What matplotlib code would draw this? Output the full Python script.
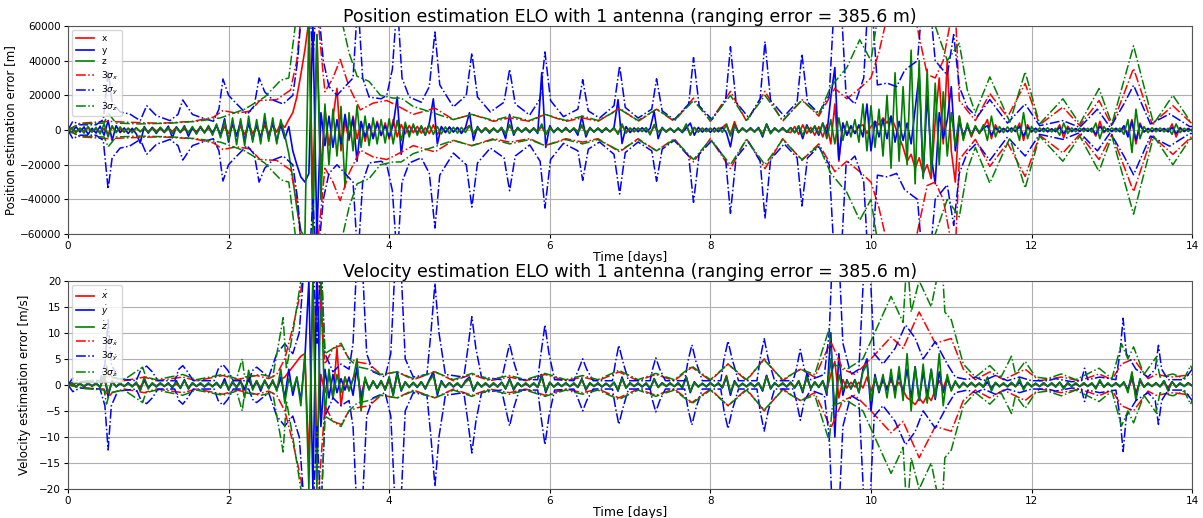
import numpy as np
import matplotlib
matplotlib.use("Agg")
import matplotlib.pyplot as plt

# ---------------- data ----------------
DT = 0.05  # days between error samples

# position errors [km]
pos_x_err = [
 0, 0.6, -0.8, 1.0, -0.5, 1.2, -1.0, 0.7, -1.3, 0.9, -2.0, 1.5, -0.8, 0.6, -1.1, 1.0, -0.7, 1.2, -0.9, 0.8,
 -1.0, 1.4, -0.6, 0.9, -1.5, 1.1, -0.8, 1.6, -1.2, 0.7, -1.4, 1.0, -0.9, 1.8, -1.3, 1.2, -2.2, 2.5, -2.8, 1.9,
 -2.0, 2.8, -3.2, 2.2, -2.6, 3.4, -2.1, 1.8, -3.6, 2.7, -2.2, 3.1, -1.2, 4.0, 1.5, 6.0, 10.0, 19.0, 32.0, 46.0,
 63, -35, 55, -25, 12, -9, 7, 24, -12, 5, -6, 8, -5, 4.5, -6.5, 3.5, -4.2, 5, -3.3, 4.1,
 -5.2, 6, -4, 3.2, -2.2, 2.6, -1.6, 2.1, -1.8, 1.3, -2.1, 3.0, -2.6, 1.5, -1.1, 1.3, -0.9, 1.1, -1.3, 0.9,
 2.6, -2.2, 1.1, -0.9, 1.2, -0.8, 1.0, -1.1, 0.7, -1.9, 2.4, -1.2, 0.8, -0.9, 1.1, -0.7, 1.0, -0.8, 2.0, -2.5,
 1.2, -0.8, 1.0, -0.9, 0.7, -1.1, 0.9, -0.7, 2.0, -1.6, 0.9, -0.8, 1.0, -0.6, 0.8, -0.9, 1.1, -1.8, 2.4, -1.0,
 0.8, -0.9, 1.0, -0.7, 1.2, -2.0, 2.2, -1.1, 0.8, -0.6, 0.9, -1.0, 0.8, -0.7, 2.5, -2.8, 1.4, -0.9, 1.1, -0.8,
 0.9, -1.1, 0.8, 1.5, 3.5, -2.6, 4.8, -1.2, 0.9, -1.0, 0.8, -0.7, 1.0, -2.2, 3.0, -1.8, 0.9, -0.8, 1.1, -0.9,
 -1.5, 2.0, -2.5, 3.0, -2.0, 1.5, -3.0, 2.0, -4.0, 3.0, -8.0, 15.0, -18.0, 4.0, -3.0, 2.0, -2.0, 2.0, 3.0, -2.0,
 2, 5, 3, 7, 4, 8, 2, -4, -10, -18, -14, -22, -16, -25, -20, -28, 5, 30, -8, 40,
 -12, -30, 8, -5, 3, -4, 2, -2, 1.5, 6, -5, 3, -1.5, 1, -1, 1.2, -0.8, 4, -6, 3,
 -1.2, 1.0, -0.8, 0.9, -1.1, 0.7, -0.9, 3.0, -4.5, 2.2, -1.0, 0.8, -0.9, 1.1, -0.7, 0.9, -3.5, 5.0, -1.5, 0.8,
 -0.9, 1.0, -0.7, 0.8, -2.0, 6.0, -8.0, 4.0, -1.2, 0.9, -1.0, 0.8, -0.7, 0.9, -1.0, 3.5, -4.0, 1.5, -0.9, 1.0,
 -0.5]

pos_y_err = [
 0, -1.5, 2.0, -1.2, 1.8, -2.5, 1.0, -1.8, 2.2, -3.0, 5.5, -6.0, 2.5, -1.5, 1.2, -2.0, 1.0, -2.2, -7.5, 2.0,
 -1.8, 1.5, -2.0, 1.3, -1.0, 2.2, -4.5, 1.8, -1.5, 2.4, -3.6, 1.2, -2.0, 1.6, -1.4, 2.0, -1.6, 2.5, -3.0, 6.5,
 -7.0, 4.5, -3.5, 5.0, -6.0, 4.0, -5.5, 3.5, -4.8, 6.0, -5.0, 4.2, -6.5, 3.0, -5.0, 2.0, -12.0, -20.0, -27.0, -30.0,
 -25.0, 62.0, -62.0, 10.0, -9.0, 8.0, -10.0, 6.0, -8.0, 9.0, -5.0, 7.0, -18.0, 5.0, -4.0, 3.5, -5.0, 4.0, -3.0, 2.5,
 -4.0, 3.0, 19.0, -14.0, 3.0, -2.0, 2.5, -1.8, 2.0, -3.0, 4.0, 18.0, -8.0, 2.0, -1.5, 1.8, -1.2, 1.5, -2.0, 1.4,
 10.0, -6.0, 2.0, -1.5, 1.2, -1.8, 1.0, -1.3, 1.5, -5.0, 9.0, -3.0, 1.5, -1.2, 1.0, -1.5, 1.2, -2.0, 33.0, -10.0,
 2.5, -1.5, 1.2, -1.0, 1.4, -1.2, 1.0, -3.0, 8.0, -4.0, 1.5, -1.2, 1.0, -1.4, 1.2, -1.0, 1.5, 17.5, -7.8, 2.0,
 -1.5, 1.2, -1.0, 1.3, -1.1, 1.0, 10.7, -5.0, 1.5, -1.2, 1.0, -1.3, 1.1, -1.5, 1.2, 4.0, -3.0, 1.5, -1.2, 1.0,
 -1.3, 1.2, -1.0, 1.4, -1.5, -9.7, 3.0, -1.4, 1.2, -1.0, 1.3, -1.1, 1.5, -4.0, 3.5, -1.6, 1.2, -1.0, 1.3, -1.2,
 1.4, -1.5, 2.0, -5.0, 3.0, -1.5, 2.0, -3.0, 4.0, -2.5, 19.0, 36.0, -17.0, 4.0, -3.0, 2.5, -2.0, 3.0, -4.0, 15.0,
 -12.0, 5.0, -4.0, 6.0, -5.0, 8.0, -7.0, 5.0, -6.0, 4.0, -8.0, 12.0, 32.0, -27.0, 20.0, -15.0, -31.0, 10.0, -5.0, 6.0,
 25.0, -12.0, 5.0, -3.0, 2.0, -2.5, 1.5, -1.2, 1.0, 2.5, -3.0, 1.2, -1.0, 0.8, -0.9, 1.0, -0.8, 2.0, -3.5, 1.5,
 -0.8, 0.9, -0.7, 1.0, -0.8, 0.6, -0.9, 1.5, -2.0, 1.0, -0.7, 0.8, -0.6, 0.9, -0.7, 1.0, -2.5, 2.2, -0.9, 0.7,
 -0.8, 0.9, -1.0, 2.5, -4.0, 5.0, -6.0, 3.0, -1.0, 0.8, -0.7, 0.9, -0.6, 0.8, -1.0, 1.5, -2.0, 1.0, -0.8, 0.7,
 -0.4]

pos_z_err = [
 0, 1.2, -1.5, 1.0, -1.8, 2.0, -1.2, 1.5, -2.2, 3.5, -4.0, 2.5, -1.5, 1.8, -1.2, 1.0, -1.6, 1.3, -1.0, 1.4,
 -1.2, 1.0, -1.5, 1.6, -1.1, 1.3, -2.0, 1.4, -1.2, 1.8, -1.6, 2.0, -2.4, 2.2, -1.8, 2.6, -3.0, 3.5, -4.5, 5.0,
 -6.0, 7.0, -8.5, 6.5, -9.0, 8.0, -7.0, 6.0, -8.0, 9.5, -6.5, 7.0, -8.0, 6.0, -3.0, -13.6, -28.0, -45.0, -58.0, -62.0,
 62.0, -62.0, 55.0, -40.0, 15.0, -20.0, 12.0, -15.0, 13.6, -33.0, 10.0, -12.0, 14.0, -10.0, 8.0, -9.0, 7.0, -8.0, 6.0, -7.5,
 6.5, -8.0, 5.5, -6.0, 4.5, -4.0, 3.5, -3.0, 2.5, -2.8, 3.0, -2.5, 2.0, -2.2, 1.8, -2.0, 1.6, -1.8, 1.5, -1.4,
 2.5, -2.0, 1.5, -1.3, 1.2, -1.5, 1.0, -1.2, 1.4, -2.2, 3.0, -2.0, 1.2, -1.0, 1.3, -1.1, 1.0, -1.4, 3.5, -2.8,
 1.5, -1.2, 1.0, -1.3, 1.1, -0.9, 1.2, -1.5, 3.0, -2.5, 1.2, -1.0, 1.1, -0.9, 1.2, -1.0, 1.3, -2.5, 3.5, -1.8,
 1.2, -1.0, 1.1, -0.9, 1.3, -2.8, 3.2, -1.5, 1.0, -1.1, 0.9, -1.0, 1.2, -1.0, 3.5, -3.0, 1.5, -1.2, 1.0, -0.9,
 1.1, -1.0, 1.2, -1.3, 3.0, -3.5, 2.8, -1.5, 1.1, -0.9, 1.0, -1.2, 1.1, -3.0, 3.5, -2.2, 1.2, -1.0, 0.9, -1.1,
 1.2, -1.5, 2.5, -3.0, 2.0, -1.5, 2.5, -2.0, 4.0, -5.0, 6.0, -8.0, 7.0, -6.0, 5.0, -4.0, 6.0, -7.0, 15.0, -12.0,
 14.0, -10.0, 12.0, -15.0, 20.0, -22.0, 33.0, -18.0, 25.0, -20.0, 46.0, -31.0, 40.0, -28.0, 35.0, -25.0, 27.0, -20.0, 22.0, -15.0,
 10.0, -9.0, 8.0, -6.0, 4.0, -3.0, 2.5, -2.0, 3.0, -6.0, 8.0, -4.0, 2.0, -1.5, 1.8, -1.2, 2.5, -6.0, 10.0, -5.0,
 2.0, -1.5, 1.2, -1.0, 1.3, -1.1, 1.0, -3.0, 4.0, -2.0, 1.2, -1.0, 1.1, -0.9, 1.0, -1.2, 4.0, -5.0, 2.0, -1.0,
 1.2, -1.0, 1.1, -2.5, 6.0, -13.0, 12.0, -5.0, 2.0, -1.5, 1.3, -1.0, 1.2, -1.1, 1.0, -2.5, 3.5, -1.5, 1.0, -0.8,
 0.5]

# velocity errors [m/s]
vel_x_err = [
 0, 0.2, -0.3, 0.2, -0.2, 0.3, -0.2, 0.2, -0.3, 1.2, -1.5, 0.5, -0.3, 0.2, -0.2, 0.3, -0.2, 0.2, -0.4, 0.8,
 -0.6, 0.3, -0.2, 0.3, -0.2, 0.2, -0.3, 0.2, -0.5, 0.9, -0.6, 0.3, -0.2, 0.2, -0.3, 0.2, -0.2, 0.3, -0.4, 0.8,
 -0.7, 0.4, -0.3, 0.5, -1.0, 1.5, -0.6, 0.4, -0.5, 0.6, -0.4, 0.5, -0.6, 1.0, 1.5, 2.5, 3.5, 4.5, 5.5, 6.0,
 -15.0, 20.0, -12.0, 2.0, -1.5, 2.0, -2.5, 7.0, -4.0, 1.5, -1.0, 1.2, 2.5, -2.0, 1.0, -0.8, 0.7, -0.6, 0.5, -0.6,
 0.7, -1.5, 2.0, -0.8, 0.4, -0.3, 0.4, -0.3, 0.5, -0.6, 0.8, 2.0, -1.5, 0.5, -0.3, 0.4, -0.3, 0.3, -0.4, 0.5,
 1.2, -1.0, 0.4, -0.3, 0.3, -0.4, 0.3, -0.3, 0.4, -0.6, 1.0, -0.8, 0.3, -0.3, 0.2, -0.3, 0.3, -0.4, 1.5, -1.2,
 0.4, -0.3, 0.3, -0.2, 0.3, -0.3, 0.2, -0.4, 1.0, -0.8, 0.3, -0.2, 0.3, -0.3, 0.2, -0.3, 0.4, -0.8, 1.2, -0.5,
 0.3, -0.2, 0.3, -0.3, 0.2, -0.6, 1.0, -0.4, 0.3, -0.2, 0.3, -0.3, 0.2, -0.4, 1.5, -1.2, 0.4, -0.3, 0.2, -0.3,
 0.3, -0.2, 0.3, -0.4, 1.8, -1.5, 0.5, -0.3, 0.2, -0.3, 0.2, -0.3, 0.3, -1.0, 1.8, -0.6, 0.3, -0.2, 0.3, -0.3,
 0.3, -0.4, 0.6, -1.0, 1.2, -0.5, 0.4, -0.3, 0.6, -1.0, 2.0, 4.5, -2.5, 1.0, -0.6, 0.5, -0.4, 0.5, -0.6, 1.5,
 -1.2, 0.8, -0.6, 0.7, -0.5, 0.8, -0.6, 0.5, -1.0, -2.5, -3.0, -3.8, -2.5, -3.5, -2.0, -3.0, -1.0, 0.8, -0.6, 1.5,
 -1.0, 0.5, -0.4, 0.3, -0.3, 0.3, -0.2, 0.3, -0.2, 0.6, -0.8, 0.3, -0.2, 0.2, -0.3, 0.2, -0.2, 0.5, -0.6, 0.3,
 -0.2, 0.2, -0.3, 0.2, -0.2, 0.3, -0.2, 0.4, -0.5, 0.3, -0.2, 0.2, -0.3, 0.2, -0.2, 0.3, -0.5, 0.6, -0.3, 0.2,
 -0.2, 0.3, -0.2, 0.3, -0.8, 1.0, -1.5, 0.6, -0.3, 0.2, -0.2, 0.3, -0.3, 0.4, -0.5, 0.6, -0.4, 0.3, -0.2, 0.3,
 -0.1]

vel_y_err = [
 0, 0.4, -0.3, 0.3, -0.4, 0.3, -0.2, 0.4, -0.5, 2.0, -2.2, 0.8, -0.4, 0.3, -0.3, 0.4, -0.3, 0.5, -1.0, 1.0,
 -0.5, 0.3, -0.4, 0.3, -0.3, 0.4, -0.6, 0.8, -0.7, 1.0, -0.8, 0.4, -0.3, 0.3, -0.4, 0.3, -0.3, 0.4, -0.6, 1.2,
 -1.0, 0.6, -0.5, 0.7, -0.8, 1.0, -0.6, 0.8, -1.2, 0.9, -0.6, 0.8, -1.0, 1.5, -2.5, 3.0, -2.0, 1.5, -3.0, 5.0,
 20.0, -20.0, 22.0, -8.0, 3.0, -2.5, 2.0, -1.5, 1.2, -1.0, 1.5, -2.0, 3.5, -3.0, 1.0, -0.8, 0.7, -0.6, 0.8, -1.0,
 1.5, -2.0, 2.5, -1.2, 0.6, -0.5, 0.4, -0.5, 0.6, -0.8, 1.0, 2.5, -2.0, 0.8, -0.5, 0.4, -0.4, 0.3, -0.5, 0.8,
 1.5, -1.2, 0.5, -0.4, 0.3, -0.4, 0.3, -0.4, 0.5, -0.8, 1.2, -1.0, 0.4, -0.3, 0.3, -0.4, 0.3, -0.5, 2.0, -1.5,
 0.5, -0.4, 0.3, -0.3, 0.4, -0.3, 0.3, -0.5, 1.2, -1.0, 0.4, -0.3, 0.3, -0.4, 0.3, -0.3, 0.5, -1.2, 1.5, -0.6,
 0.4, -0.3, 0.3, -0.4, 0.3, -0.8, 1.2, -0.5, 0.4, -0.3, 0.3, -0.3, 0.4, -0.6, 1.5, -1.5, 0.6, -0.4, 0.3, -0.3,
 0.4, -0.3, 0.3, -0.6, 1.5, -2.0, 0.8, -0.4, 0.3, -0.3, 0.4, -0.3, 0.4, -1.2, 1.8, -0.8, 0.4, -0.3, 0.3, -0.4,
 0.5, -0.6, 0.8, -1.5, 2.0, -0.8, 0.6, -0.5, 0.8, -2.0, 10.0, -10.0, 6.0, -2.0, 1.0, -0.8, 1.0, -1.5, 3.0, 5.0,
 -5.0, 2.0, -1.5, 1.2, -1.0, 1.5, -1.2, 2.0, -1.5, 3.0, -2.5, 3.5, -3.0, 2.5, -2.0, 3.0, -2.8, 2.5, -1.5, 1.0,
 -0.8, 0.6, -0.5, 0.4, -0.3, 0.4, -0.3, 0.3, -0.4, 0.5, -0.6, 0.4, -0.3, 0.3, -0.3, 0.4, -0.3, 0.5, -0.6, 0.4,
 -0.3, 0.3, -0.3, 0.4, -0.3, 0.3, -0.4, 0.5, -0.6, 0.4, -0.3, 0.3, -0.3, 0.4, -0.3, 0.3, -0.6, 0.8, -0.4, 0.3,
 -0.3, 0.4, -0.3, 0.5, -1.0, 2.0, -2.2, 1.0, -0.4, 0.3, -0.3, 0.4, -0.3, 0.8, -1.0, 0.6, -0.4, 0.3, -0.3, 0.4,
 -0.2]

vel_z_err = [
 0, 0.3, -0.4, 0.3, -0.3, 0.4, -0.3, 0.3, -0.5, 1.8, -1.6, 0.6, -0.3, 0.4, -0.3, 0.3, -0.4, 0.5, -1.2, 1.5,
 -0.8, 0.4, -0.3, 0.4, -0.3, 0.3, -0.4, 0.5, -0.6, 0.8, -0.7, 0.4, -0.3, 0.4, -0.3, 0.4, -0.4, 0.5, -0.5, 0.6,
 -0.8, 0.7, -0.6, 1.0, -2.5, 2.8, -1.0, 0.8, -0.7, 0.9, -0.8, 1.0, -1.2, 3.0, -3.5, 1.2, -1.0, 1.5, -4.0, 6.0,
 -20.0, 20.0, -20.0, 20.0, -6.0, 3.0, -2.5, 2.0, -1.5, 1.5, -1.2, 1.0, 5.0, -5.0, 1.5, -1.0, 0.8, -0.7, 0.8, -1.0,
 1.5, -2.0, 2.0, -1.0, 0.6, -0.5, 0.5, -0.4, 0.6, -0.7, 0.8, 1.8, -1.5, 0.6, -0.4, 0.4, -0.3, 0.4, -0.4, 0.6,
 1.2, -1.0, 0.5, -0.4, 0.4, -0.3, 0.4, -0.4, 0.5, -0.7, 1.0, -0.8, 0.4, -0.3, 0.4, -0.3, 0.4, -0.5, 1.5, -1.2,
 0.5, -0.4, 0.4, -0.3, 0.4, -0.3, 0.4, -0.5, 1.0, -0.8, 0.4, -0.3, 0.4, -0.3, 0.3, -0.4, 0.5, -1.0, 1.2, -0.6,
 0.4, -0.3, 0.4, -0.3, 0.4, -0.7, 1.0, -0.5, 0.4, -0.3, 0.4, -0.3, 0.4, -0.6, 1.5, -1.3, 0.5, -0.4, 0.3, -0.4,
 0.4, -0.3, 0.4, -0.5, 1.6, -1.4, 0.6, -0.4, 0.3, -0.4, 0.3, -0.4, 0.4, -1.0, 1.6, -0.7, 0.4, -0.3, 0.4, -0.3,
 0.5, -0.6, 0.8, -1.2, 1.5, -0.7, 0.6, -0.5, 0.8, -1.5, 5.0, -4.0, 2.0, -1.0, 0.8, -0.7, 1.0, -1.5, 2.5, 4.0,
 -3.0, 1.5, -1.2, 2.0, -2.5, 3.0, -2.5, 3.5, -3.0, 6.0, -5.0, 3.5, -3.0, 4.0, -3.5, 3.0, -2.5, 6.0, -4.0, 2.0,
 -1.2, 0.8, -0.6, 0.5, -0.4, 0.5, -0.4, 0.4, -0.5, 1.5, -1.2, 0.5, -0.4, 0.4, -0.4, 0.5, -0.4, 1.2, -1.0, 0.5,
 -0.4, 0.3, -0.3, 0.4, -0.3, 0.4, -0.4, 0.5, -0.8, 0.5, -0.3, 0.4, -0.3, 0.4, -0.3, 0.4, -0.8, 1.0, -0.5, 0.4,
 -0.3, 0.4, -0.4, 0.6, -1.5, 2.5, -3.0, 1.2, -0.5, 0.4, -0.3, 0.4, -0.4, 0.8, -1.2, 0.6, -0.4, 0.4, -0.3, 0.4,
 -0.2]

# 3-sigma envelopes (time [days], value); position in km, velocity in m/s
pos_sig_x = [(0,0),(0.15,3.9),(0.5,5),(0.73,4.5),(1.15,3.9),(1.56,5),(1.81,7.4),(1.93,11.2),(2.1,9.7),(2.27,10.9),
 (2.39,17),(2.6,17.5),(2.77,23),(2.85,40),(2.9,65),(3.0,80),(3.1,70),(3.2,22),(3.3,30),(3.39,40.7),(3.5,25),(3.64,11.6),
 (3.8,15.5),(3.97,17),(4.1,14),(4.3,9),(4.57,12.6),(4.8,6),(5.03,9),(5.3,5),(5.5,7),(5.75,5),(5.94,9),(6.2,5),(6.41,7),
 (6.6,5),(6.87,12.6),(7.1,5),(7.33,12),(7.55,5),(7.79,18.4),(8.0,5),(8.25,22.3),(8.45,5),(8.68,22.3),(8.9,5),(9.14,17.5),
 (9.35,8),(9.55,24),(9.7,18),(9.86,24),(10.0,30),(10.1,45),(10.2,65),(10.3,80),(10.45,80),(10.55,65),(10.7,32),(10.8,30),
 (10.9,40),(11.0,65),(11.05,70),(11.1,17),(11.3,5.4),(11.48,21),(11.7,7.4),(11.92,26.8),(12.1,3),(12.39,13.2),(12.6,2.5),
 (12.84,17),(13.0,2.5),(13.27,35.5),(13.5,3.5),(13.76,14),(14,3.5)]

pos_sig_y = [(0,0),(0.06,5),(0.15,3),(0.35,3),(0.44,6),(0.5,34),(0.55,16),(0.65,10.4),(0.77,9.2),(0.9,5.4),(0.98,14),
 (1.1,8.3),(1.27,5.4),(1.37,9),(1.43,17.3),(1.55,9),(1.64,7.5),(1.81,5),(1.88,12),(1.93,29.4),(2.0,20),(2.06,17),(2.23,9),
 (2.32,14),(2.38,30),(2.45,22),(2.55,17.3),(2.68,15),(2.8,20),(2.86,40),(2.92,75),(3.0,80),(3.05,40),(3.1,80),(3.18,40),
 (3.25,25),(3.35,20),(3.45,25),(3.55,30),(3.61,75),(3.67,30),(3.75,19),(3.9,18),(3.97,20),(4.04,35),(4.10,75),(4.16,30),
 (4.25,19),(4.4,16),(4.5,25),(4.57,56.5),(4.63,26),(4.8,13.3),(4.96,20),(5.03,44.4),(5.1,19),(5.26,10.4),(5.43,16),(5.5,35),
 (5.57,15),(5.75,8.6),(5.88,18),(5.94,45),(6.01,17),(6.17,7.7),(6.35,12),(6.41,29),(6.48,11),(6.62,6.9),(6.8,14),(6.87,36.9),
 (6.94,13),(7.1,6.9),(7.27,12),(7.33,29.5),(7.4,11),(7.55,6),(7.73,15),(7.79,41.7),(7.86,14),(8.02,6),(8.19,17),(8.25,48),
 (8.32,16),(8.48,7),(8.62,18),(8.68,51),(8.75,17),(8.92,8),(9.08,16),(9.14,43.8),(9.21,16),(9.35,9.6),(9.48,20),(9.55,80),
 (9.62,80),(9.69,20),(9.8,15),(9.91,30),(9.97,80),(10.03,60),(10.08,26),(10.2,27),(10.32,25),(10.42,34.5),(10.58,40),
 (10.65,80),(10.72,80),(10.8,40),(10.95,31.6),(11.03,55),(11.1,25),(11.2,13),(11.32,7.4),(11.48,17.5),(11.7,4),(11.92,15),
 (12.1,2.5),(12.39,5.4),(12.6,1.5),(12.82,12),(12.98,1.5),(13.15,15),(13.27,25.8),(13.48,3.5),(13.72,9.3),(13.97,2),(14,2)]

pos_sig_z = [(0,0),(0.15,3.5),(0.45,4),(0.5,9.7),(0.6,4),(0.9,3.5),(1.3,4),(1.6,5),(1.9,7),(2.2,12),(2.45,19),(2.65,28.7),
 (2.75,30),(2.83,60),(2.9,80),(3.0,80),(3.1,70),(3.2,60),(3.3,75),(3.4,65),(3.5,44.6),(3.6,31),(3.75,28),(3.89,20),(4.05,18.4),
 (4.15,18.4),(4.3,13.6),(4.56,9.7),(4.8,6),(5.03,9),(5.3,5.5),(5.5,8),(5.75,5.5),(5.94,9),(6.2,5.5),(6.41,8),(6.6,5.5),
 (6.87,12),(7.1,5.5),(7.33,12),(7.55,5.5),(7.79,17),(8.0,5.5),(8.25,20),(8.45,5.5),(8.68,20),(8.9,5.5),(9.14,17),(9.35,9),
 (9.5,25),(9.7,36),(9.86,52),(10.0,40),(10.1,70),(10.3,80),(10.35,75),(10.5,80),(10.65,70),(10.8,60),(10.95,40),(11.1,50),
 (11.2,23),(11.3,10),(11.48,30.6),(11.73,4.5),(11.92,33.5),(12.1,3.5),(12.39,18),(12.6,3.5),(12.84,23.9),(13.0,3.5),
 (13.27,48.5),(13.52,3.5),(13.76,20),(13.97,5.4),(14,5)]

vel_sig_x = [(0,0),(0.2,0.6),(0.45,0.8),(0.5,2.5),(0.55,1.5),(0.7,0.8),(0.95,1.5),(1.1,0.8),(1.43,1.5),(1.6,0.8),(1.93,1.8),
 (2.1,1),(2.35,1.8),(2.5,1.2),(2.6,2),(2.7,5),(2.8,11),(2.9,18),(2.95,25),(3.1,25),(3.2,4),(3.3,7),(3.4,7.6),(3.5,5),
 (3.6,4.4),(3.75,4),(3.9,2),(4.1,2.5),(4.3,1),(4.57,2.5),(4.8,0.8),(5.03,2),(5.25,0.8),(5.5,1.5),(5.7,0.8),(5.94,2),(6.2,0.8),
 (6.41,1.5),(6.6,0.8),(6.86,2.5),(7.1,0.8),(7.32,2),(7.55,0.8),(7.77,3.4),(8.0,0.8),(8.22,4),(8.45,0.8),(8.67,5),(8.9,0.8),
 (9.12,3),(9.3,1.5),(9.5,8.3),(9.65,3),(9.8,2),(10.0,5),(10.25,9.2),(10.4,7),(10.6,14),(10.8,8),(11.0,8.9),(11.15,3),
 (11.3,1),(11.48,2.5),(11.65,1),(11.92,3),(12.1,0.8),(12.37,1.5),(12.6,0.8),(12.84,2.1),(13.0,1),(13.12,4),(13.27,5),
 (13.45,1.2),(13.55,2),(13.76,1.5),(14,2)]

vel_sig_y = [(0,0),(0.06,1.3),(0.15,0.6),(0.4,0.8),(0.46,4),(0.5,12.5),(0.54,4),(0.62,1.2),(0.85,0.8),(0.91,3),(0.98,3.6),
 (1.05,2.5),(1.12,0.8),(1.33,0.8),(1.38,3),(1.43,3.7),(1.49,2.5),(1.56,0.8),(1.82,0.8),(1.87,3),(1.93,3.9),(1.99,2.8),
 (2.06,0.8),(2.25,0.8),(2.3,2.8),(2.35,3.4),(2.42,2.5),(2.5,1.5),(2.6,6),(2.7,7.9),(2.8,6),(2.88,10),(2.95,25),(3.05,25),
 (3.1,8),(3.15,25),(3.2,6),(3.3,2.5),(3.4,4),(3.5,3),(3.55,8),(3.6,25),(3.66,25),(3.72,6),(3.8,2.5),(3.95,1.5),(4.02,6),
 (4.08,25),(4.14,25),(4.2,5),(4.3,1.5),(4.47,2),(4.52,10),(4.57,19.5),(4.62,10),(4.7,2),(4.93,1.5),(4.98,7),(5.03,13.1),
 (5.08,7),(5.15,1.5),(5.4,1),(5.45,4.5),(5.5,7.9),(5.55,4.5),(5.62,1),(5.85,1),(5.89,6),(5.94,11.5),(5.99,6),(6.06,1),
 (6.3,0.8),(6.36,3),(6.41,5),(6.46,3),(6.54,0.8),(6.78,0.8),(6.82,4.5),(6.86,7.6),(6.91,4.5),(6.98,0.8),(7.25,0.8),(7.28,3),
 (7.32,5.2),(7.37,3),(7.44,0.8),(7.68,0.8),(7.72,4.5),(7.77,7.7),(7.82,4.5),(7.9,0.8),(8.13,0.8),(8.17,5),(8.22,8.4),(8.27,5),
 (8.35,0.8),(8.58,0.8),(8.62,5),(8.67,8.9),(8.72,5),(8.8,0.8),(9.03,0.8),(9.07,3),(9.12,6.8),(9.17,3),(9.25,1),(9.42,2),
 (9.48,10),(9.52,25),(9.6,25),(9.65,8),(9.75,2),(9.85,3),(9.92,25),(9.98,25),(10.04,6),(10.15,4),(10.3,7),(10.43,11.5),
 (10.55,9),(10.65,5),(10.8,8.3),(10.95,4),(11.05,1.5),(11.2,1),(11.3,1.5),(11.4,0.8),(11.55,1.8),(11.7,0.8),(11.85,1.5),
 (12.0,0.8),(12.2,0.8),(12.3,1.2),(12.5,0.6),(12.62,0.8),(12.66,3.2),(12.7,1),(12.85,1.5),(13.05,1),(13.1,6),(13.14,12.8),
 (13.18,6),(13.3,3),(13.45,1.5),(13.54,3),(13.58,7.6),(13.62,3),(13.7,1),(13.9,1),(14,3)]

vel_sig_z = [(0,0),(0.2,0.7),(0.45,1),(0.48,3.7),(0.52,1.5),(0.7,1),(0.93,3.4),(0.97,1.5),(1.1,1),(1.43,2),(1.6,1),(1.93,2),
 (2.1,1.2),(2.17,5),(2.2,1.5),(2.4,2),(2.55,1.5),(2.68,12.9),(2.72,3),(2.8,10),(2.9,20),(2.95,25),(3.15,25),(3.2,6),(3.3,7),
 (3.4,8),(3.5,5),(3.6,3.5),(3.75,3),(3.9,2),(4.1,2.5),(4.3,1.2),(4.57,2.5),(4.8,1),(5.03,2.2),(5.25,1),(5.5,1.8),(5.7,1),
 (5.94,2.2),(6.2,1),(6.41,1.8),(6.6,1),(6.86,2.8),(7.1,1),(7.32,2.2),(7.55,1),(7.77,3.6),(8.0,1),(8.22,4),(8.45,1),(8.67,4.8),
 (8.9,1),(9.12,3),(9.3,2),(9.48,10.8),(9.52,4),(9.7,3),(9.9,5),(10.25,17),(10.4,12),(10.45,25),(10.5,14),(10.6,20),
 (10.75,15),(10.88,25),(10.92,14),(11.0,12.5),(11.15,4),(11.3,1.5),(11.48,3.7),(11.62,1.5),(11.75,5.5),(11.8,2),(11.92,4.5),
 (12.05,1.5),(12.2,1.2),(12.37,2.1),(12.55,1),(12.84,3.2),(13.0,1.2),(13.12,7.9),(13.2,5),(13.27,7.3),(13.4,2),(13.55,5.3),
 (13.6,1.5),(13.76,2.1),(13.9,1.2),(13.98,3.7),(14,3)]

title_pos = "Position estimation ELO with 1 antenna (ranging error = 385.6 m)"
title_vel = "Velocity estimation ELO with 1 antenna (ranging error = 385.6 m)"

# ---------------- plotting ----------------
plt.rcParams['font.family'] = ['DejaVu Sans']
fig = plt.figure(figsize=(12.03, 5.18), dpi=100)
ax1 = fig.add_axes([0.0565, 0.548, 0.9345, 0.402])
ax2 = fig.add_axes([0.0565, 0.056, 0.9345, 0.402])

cols = ['r', 'b', 'g']

def draw(ax, errs, sigs, scale, names, signames):
    for e, c, n in zip(errs, cols, names):
        v = np.asarray(e, dtype=float) * scale
        t = np.arange(len(v)) * DT
        ax.plot(t, v, '-', color=c, lw=1.2, label=n)
    for s, c, n in zip(sigs, cols, signames):
        a = np.asarray(s, dtype=float)
        ax.plot(a[:, 0], a[:, 1] * scale, '-.', color=c, lw=1.1, label=n)
        ax.plot(a[:, 0], -a[:, 1] * scale, '-.', color=c, lw=1.1)
    ax.set_xlim(0, 14)
    ax.grid(True, color='#b0b0b0', lw=0.8)
    ax.tick_params(labelsize=7.5, length=3, pad=2)
    ax.set_xlabel('Time [days]', fontsize=9, labelpad=0)
    ax.legend(loc='upper left', fontsize=6.5, handlelength=2.0, borderpad=0.4,
              labelspacing=0.3, framealpha=0.8)
    for sp in ax.spines.values():
        sp.set_color('#555555')

draw(ax1, [pos_x_err, pos_y_err, pos_z_err], [pos_sig_x, pos_sig_y, pos_sig_z], 1000.0,
     ['x', 'y', 'z'], [r'$3\sigma_x$', r'$3\sigma_y$', r'$3\sigma_z$'])
ax1.set_ylim(-60000, 60000)
ax1.set_yticks([-60000, -40000, -20000, 0, 20000, 40000, 60000])
ax1.set_ylabel('Position estimation error [m]', fontsize=8.5, labelpad=2)
ax1.set_title(title_pos, fontsize=12.5, pad=3)

draw(ax2, [vel_x_err, vel_y_err, vel_z_err], [vel_sig_x, vel_sig_y, vel_sig_z], 1.0,
     [r'$\dot{x}$', r'$\dot{y}$', r'$\dot{z}$'], [r'$3\sigma_{\dot{x}}$', r'$3\sigma_{\dot{y}}$', r'$3\sigma_{\dot{z}}$'])
ax2.set_ylim(-20, 20)
ax2.set_yticks([-20, -15, -10, -5, 0, 5, 10, 15, 20])
ax2.set_ylabel('Velocity estimation error [m/s]', fontsize=8.5, labelpad=6)
ax2.set_title(title_vel, fontsize=12.5, pad=3)

fig.savefig('out.png', dpi=100)
